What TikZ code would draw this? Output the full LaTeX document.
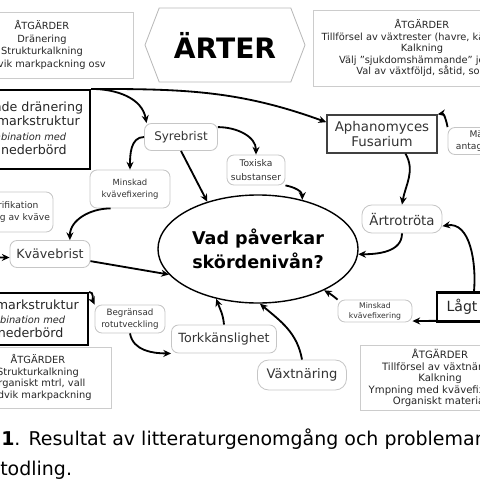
\documentclass[tikz,border=0pt]{standalone}
\usepackage{fontspec}
\setmainfont{DejaVu Sans}
\usetikzlibrary{arrows.meta,shapes.geometric,shapes.symbols}

\begin{document}
\begin{tikzpicture}[
	x=0.025cm, y=0.025cm,
	ruta/.style={draw=gray!45, line width=0.6pt, rounded corners=5pt, align=center, inner sep=1pt, text=black!80},
	atgard/.style={draw=gray!40, line width=0.6pt, align=center, inner sep=1pt, text=black!85},
	orsak/.style={draw=black, line width=1.5pt, align=center, inner sep=1pt, font=\fontsize{9}{10.3}\selectfont, text=black!85},
	pil/.style={-{Stealth[length=5.5pt,width=5pt]}, line width=1.3pt},
	>=Stealth
]
	\useasboundingbox (0,0) rectangle (480,-480);
	\clip (0,0) rectangle (480,-480);

	% top row
	\node[atgard, minimum width=4.55cm, minimum height=1.65cm, font=\fontsize{7}{9}\selectfont] (atgard1) at (42,-45) {ÅTGÄRDER\\Dränering\\Strukturkalkning\\Undvik markpackning osv};
	\node[signal, signal to=west and east, signal pointer angle=138, draw=gray!55, line width=0.6pt, minimum width=4cm, minimum height=1.85cm, font=\bfseries\fontsize{20}{24}\selectfont] (arter) at (225,-45) {ÄRTER};
	\node[atgard, minimum width=5.45cm, minimum height=1.9cm, font=\fontsize{7}{8.2}\selectfont] (atgard2) at (422,-48) {ÅTGÄRDER\\Tillförsel av växtrester (havre, kålväxter)\\Kalkning\\Välj "sjukdomshämmande" jordar\\Val av växtföljd, såtid, sort};

	% causes and effects
	\node[orsak, minimum width=3.5cm, minimum height=1.975cm] (dranering) at (20,-129.5) {Bristande dränering\\Dålig markstruktur\\{\fontsize{7}{10.3}\selectfont\itshape i kombination med}\\hög nederbörd};
	\node[ruta, minimum width=1.825cm, minimum height=0.675cm, font=\fontsize{8.5}{10}\selectfont] (syre) at (181,-137) {Syrebrist};
	\node[ruta, minimum width=1.45cm, minimum height=0.75cm, font=\fontsize{6.5}{9.5}\selectfont] (toxiska) at (256,-170) {Toxiska\\substanser};
	\node[ruta, minimum width=2cm, minimum height=0.95cm, font=\fontsize{6}{8.5}\selectfont] (minskad1) at (130,-189) {Minskad\\kvävefixering};
	\node[ruta, minimum width=2.35cm, minimum height=1cm, font=\fontsize{6.5}{8.5}\selectfont] (denitrif) at (6,-212) {Denitrifikation\\Utlakning av kväve};
	\node[ruta, minimum width=2cm, minimum height=0.675cm, font=\fontsize{9}{11}\selectfont] (kvavebrist) at (50,-254) {Kvävebrist};
	\coordinate (vanster) at (-30,-257);

	\node[ellipse, draw, line width=1pt, minimum width=5cm, minimum height=2.7cm, align=center, font=\bfseries\fontsize{12.5}{17}\selectfont] (vad) at (258,-249) {Vad påverkar\\skördenivån?};

	\node[draw=black!75, line width=1pt, align=center, minimum width=2.75cm, minimum height=0.95cm, font=\fontsize{9.5}{10.6}\selectfont, text=black!80] (aphano) at (382,-134) {Aphanomyces\\Fusarium};
	\node[ruta, minimum width=1.85cm, minimum height=0.675cm, font=\fontsize{6.5}{8.5}\selectfont] (mangd) at (485,-141) {Mängd\\antagonister};
	\node[ruta, rounded corners=7pt, minimum width=2cm, minimum height=0.7cm, font=\fontsize{9.5}{11}\selectfont] (rotrota) at (402,-219) {Ärtrotröta};
	\node[orsak, minimum width=1.85cm, minimum height=0.725cm, font=\fontsize{10}{12}\selectfont] (lagtph) at (474,-307) {Lågt pH};
	\node[ruta, minimum width=1.85cm, minimum height=0.55cm, font=\fontsize{5.5}{7}\selectfont] (minskad2) at (375,-311) {Minskad\\kvävefixering};

	\node[orsak, minimum width=3.45cm, minimum height=1.3cm, font=\fontsize{9}{9.8}\selectfont] (markstruktur) at (19,-319) {Dålig markstruktur\\{\fontsize{7}{9.8}\selectfont\itshape i kombination med}\\låg nederbörd};
	\node[ruta, minimum width=1.75cm, minimum height=0.7cm, font=\fontsize{6.2}{8.5}\selectfont] (begransad) at (130,-319) {Begränsad\\rotutveckling};
	\node[ruta, minimum width=2.625cm, minimum height=0.7cm, font=\fontsize{9}{11}\selectfont] (tork) at (224,-339) {Torkkänslighet};
	\node[ruta, rounded corners=8pt, minimum width=2.225cm, minimum height=0.75cm, font=\fontsize{9.3}{11}\selectfont] (vaxtnaring) at (302,-375) {Växtnäring};

	% bottom row
	\node[atgard, minimum width=3.65cm, minimum height=1.525cm, font=\fontsize{7}{8.3}\selectfont] (atgard3) at (38,-377.5) {ÅTGÄRDER\\Strukturkalkning\\Organiskt mtrl, vall\\Undvik markpackning};
	\node[atgard, minimum width=4cm, minimum height=1.625cm, font=\fontsize{7.2}{8.1}\selectfont] (atgard4) at (440,-378) {ÅTGÄRDER\\Tillförsel av växtnäring\\Kalkning\\Ympning med kvävefixerare\\Organiskt material};

	% caption
	\node[anchor=base west, inner sep=0pt, font=\fontsize{13.5}{16}\selectfont] (figtext1) at (1,-445) {\textbf{1}. Resultat av litteraturgenomgång och problemanalys};
	\node[anchor=base west, inner sep=0pt, font=\fontsize{13.5}{16}\selectfont] (figtext2) at (0,-475) {todling.};

	% connectors
	\draw[pil] (dranering.north east) to[out=0, in=100] (syre.158);
	\draw[pil] (dranering.north east) to[out=0, in=160] (aphano.168);
	\draw[pil] (syre.west) to[out=180, in=90] (minskad1.north);
	\draw[pil] (syre.15) to[out=0, in=90] (toxiska.north);
	\draw[pil] (syre.south) -- (vad.137);
	\draw[pil] (toxiska.south east) to[out=-10, in=90] (vad.48);
	\draw[pil] (minskad1.-135) to[out=180, in=90] (kvavebrist.35);
	\draw[pil] (vanster) -- (kvavebrist.185);
	\draw[pil] (kvavebrist.-10) -- (vad.196);
	\draw[pil] (mangd.north west) to[out=100, in=10] (aphano.north east);
	\draw[pil] (aphano.-40) to[out=-60, in=80] (rotrota.north);
	\draw[pil] (rotrota.south) to[out=-90, in=0] (vad.-3);
	\draw[pil] (lagtph.north) to[out=85, in=10] (rotrota.-10);
	\draw[pil] (lagtph.200) -- (minskad2.-15);
	\draw[pil] (minskad2.north west) to[out=140, in=-30] (vad.-32);
	\draw[pil] (markstruktur.north east) to[out=0, in=115] (begransad.north west);
	\draw[pil] (begransad.south) to[out=-80, in=180] (tork.south west);
	\draw[pil] (tork.north) to[out=95, in=-70] (vad.-130);
	\draw[pil] (vaxtnaring.north) to[out=100, in=-40] (vad.-88);
\end{tikzpicture}
\end{document}
